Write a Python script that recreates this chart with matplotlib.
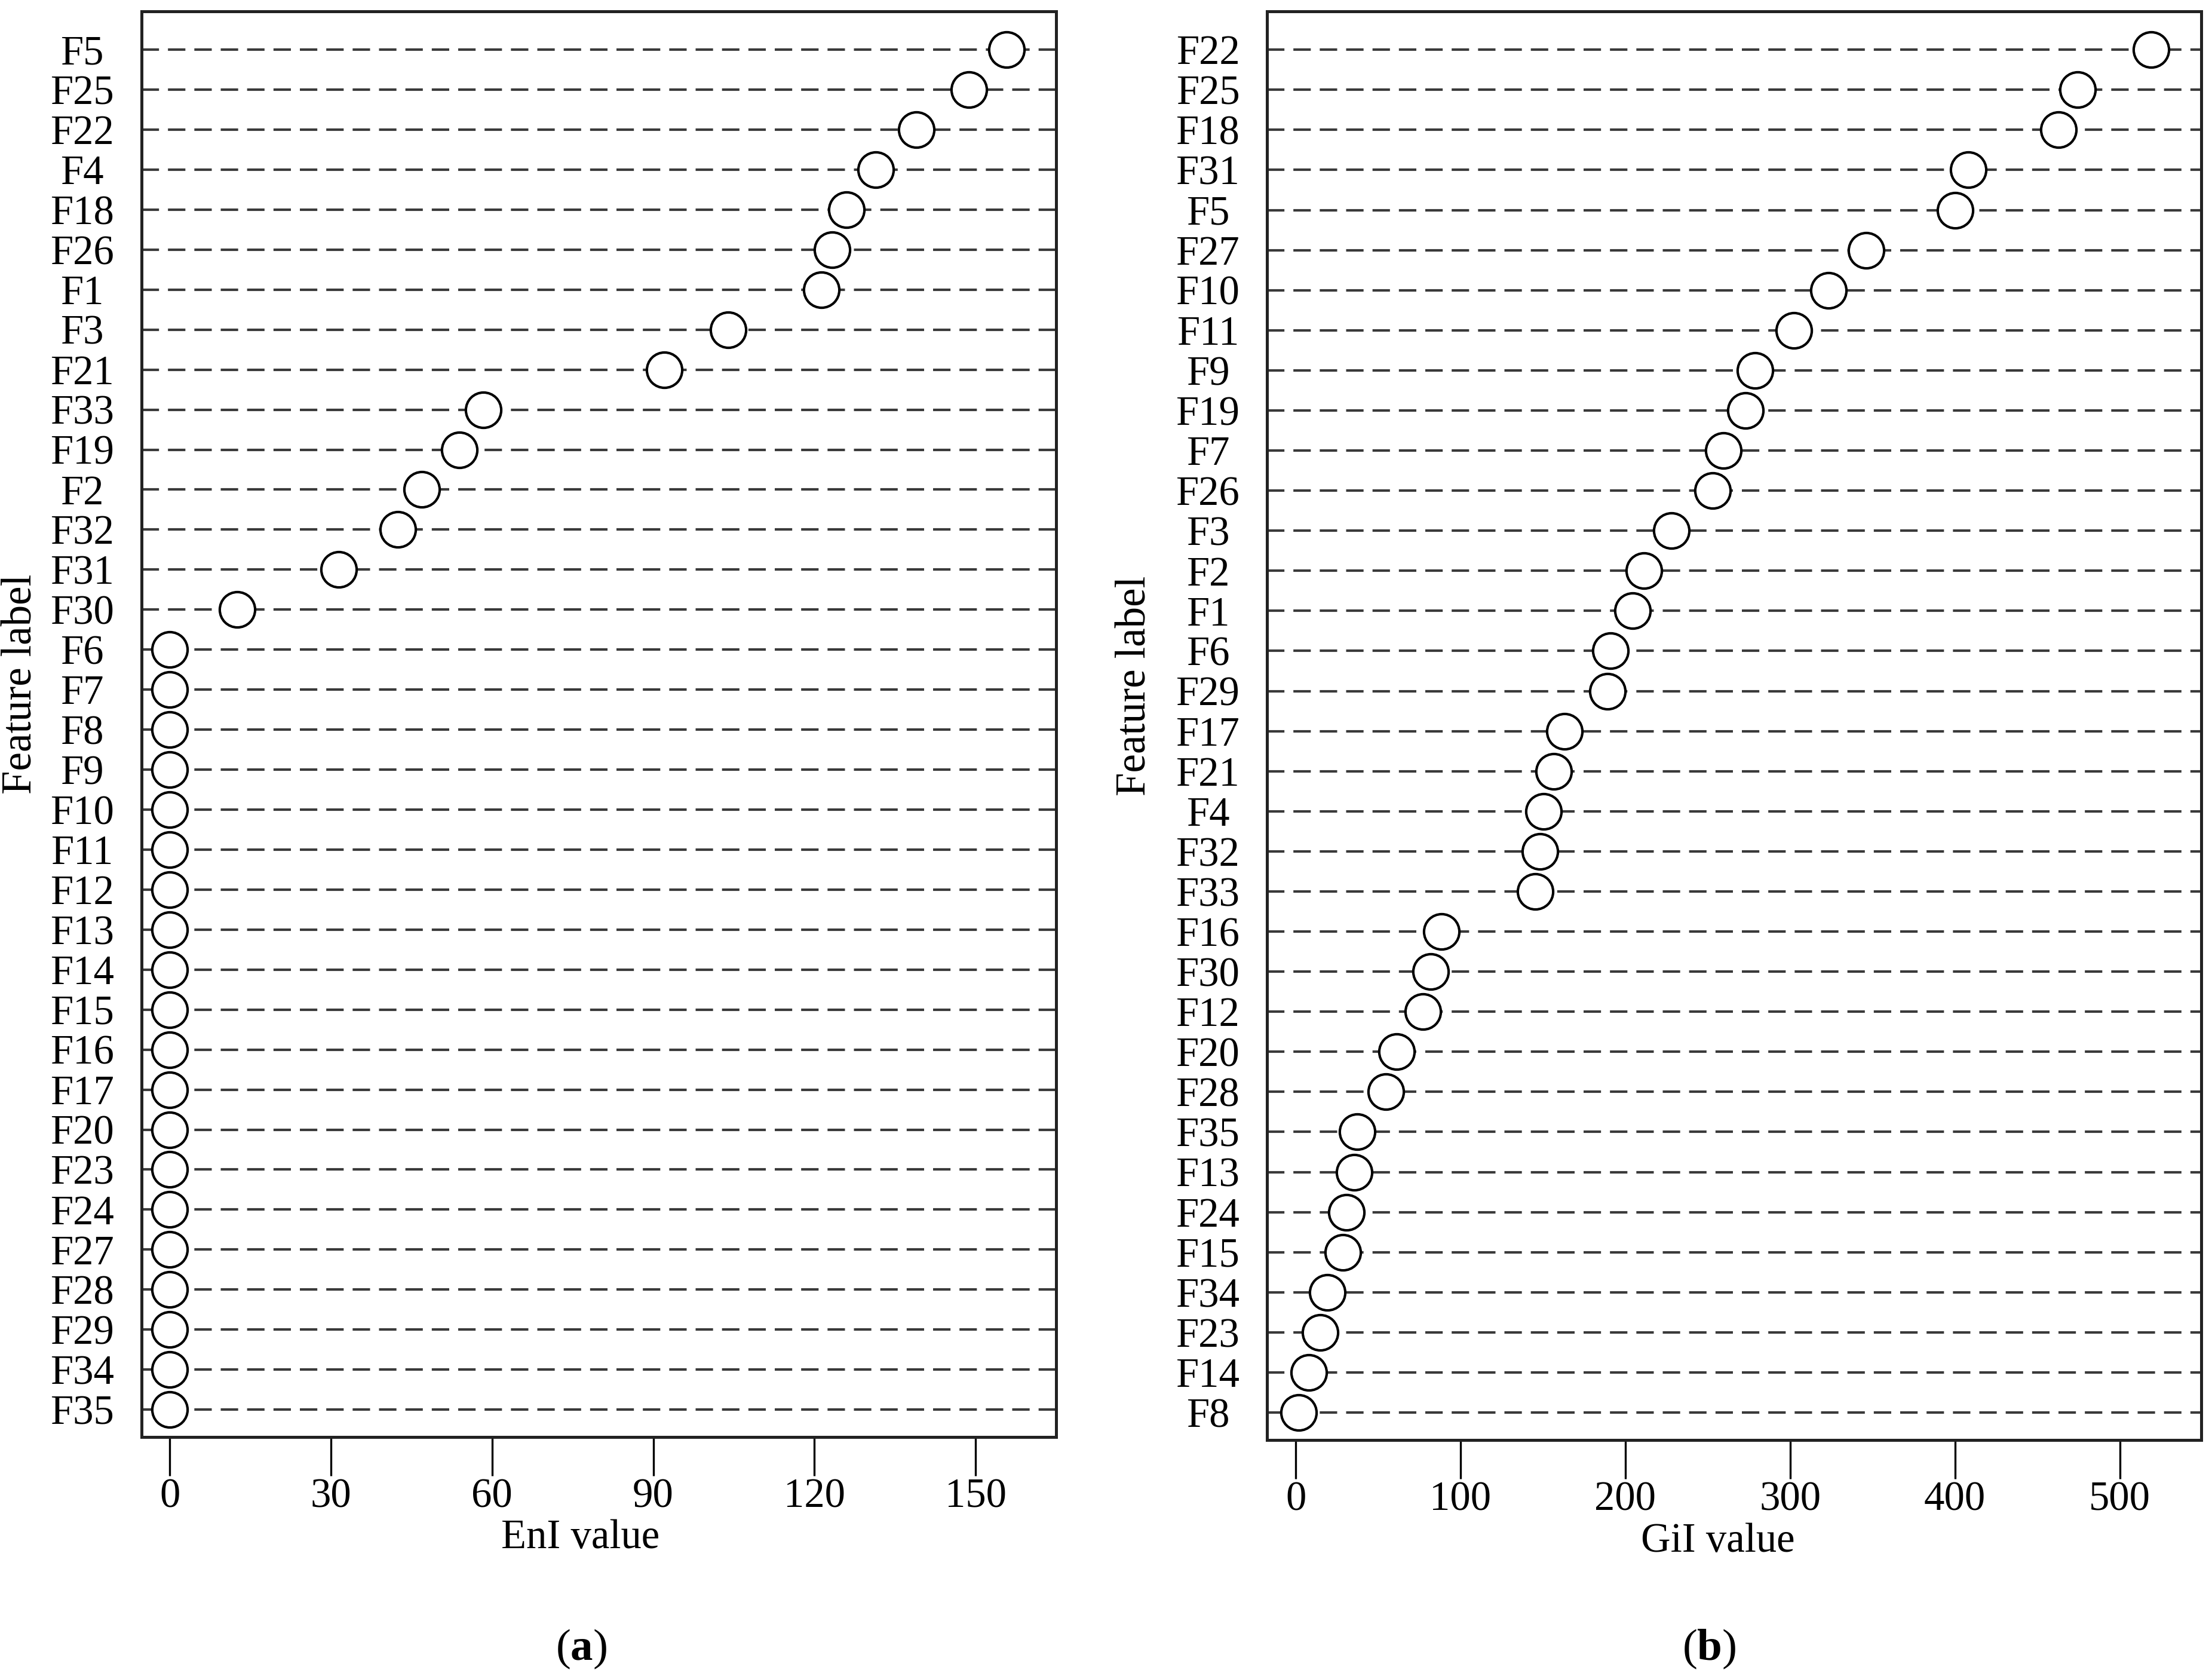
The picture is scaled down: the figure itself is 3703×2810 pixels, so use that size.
import matplotlib
matplotlib.use('Agg')
import matplotlib.pyplot as plt

plt.rcParams['font.family'] = ['Liberation Serif', 'DejaVu Serif']
plt.rcParams['mathtext.fontset'] = 'custom'
plt.rcParams['mathtext.rm'] = 'Liberation Serif'
plt.rcParams['mathtext.bf'] = 'Liberation Serif:bold'

# panel (a): EnI value, listed top to bottom
enI_labels = ['F5', 'F25', 'F22', 'F4', 'F18', 'F26', 'F1', 'F3', 'F21', 'F33',
              'F19', 'F2', 'F32', 'F31', 'F30', 'F6', 'F7', 'F8', 'F9', 'F10',
              'F11', 'F12', 'F13', 'F14', 'F15', 'F16', 'F17', 'F20', 'F23', 'F24',
              'F27', 'F28', 'F29', 'F34', 'F35']
enI_values = [155.8, 148.7, 139.0, 131.4, 125.9, 123.3, 121.3, 103.9, 92.0, 58.4,
              53.9, 46.9, 42.5, 31.5, 12.5, 0, 0, 0, 0, 0,
              0, 0, 0, 0, 0, 0, 0, 0, 0, 0,
              0, 0, 0, 0, 0]
enI_ticks = [0, 30, 60, 90, 120, 150]

# panel (b): GiI value, listed top to bottom
giI_labels = ['F22', 'F25', 'F18', 'F31', 'F5', 'F27', 'F10', 'F11', 'F9', 'F19',
              'F7', 'F26', 'F3', 'F2', 'F1', 'F6', 'F29', 'F17', 'F21', 'F4',
              'F32', 'F33', 'F16', 'F30', 'F12', 'F20', 'F28', 'F35', 'F13', 'F24',
              'F15', 'F34', 'F23', 'F14', 'F8']
giI_values = [518.9, 474.3, 462.7, 407.9, 400.2, 346.2, 323.1, 302.1, 278.5, 273.0,
              259.3, 252.8, 228.0, 211.3, 204.4, 191.1, 189.0, 162.9, 156.4, 150.4,
              148.3, 145.3, 88.3, 81.9, 77.2, 61.3, 54.8, 37.3, 35.6, 30.9,
              28.7, 19.3, 15.0, 7.8, 1.8]
giI_ticks = [0, 100, 200, 300, 400, 500]

fs = 16.5

fig = plt.figure(figsize=(3703 / 300, 2810 / 300), dpi=300)
ax1 = fig.add_axes([0.0639, 0.1441, 0.4136, 0.8491])
ax2 = fig.add_axes([0.5728, 0.1423, 0.4224, 0.8509])


def dotchart(ax, labels, values, ticks, xlim, xlabel, xlab_x, ylab_x):
    n = len(labels)
    ypos = [n - i for i in range(n)]
    ax.plot(values, ypos, 'o', ms=14.2, mfc='white', mec='black', mew=1.0,
            ls='none', zorder=3, clip_on=False)
    ax.set_yticks(ypos)
    ax.set_yticklabels(labels, fontsize=fs)
    for lab in ax.get_yticklabels():
        lab.set_ha('center')
    ax.tick_params(axis='y', length=0, pad=23.8)
    ax.grid(axis='y', color='#3a3a3a', linewidth=1.0, linestyle=(0, (7, 3.6)))
    ax.set_axisbelow(True)
    ax.set_ylim(0.313, n + 0.956)
    ax.set_xlim(*xlim)
    ax.set_xticks(ticks)
    ax.set_xticklabels([str(t) for t in ticks], fontsize=fs)
    ax.tick_params(axis='x', direction='out', length=15.6, width=0.8, pad=1)
    for s in ax.spines.values():
        s.set_linewidth(1.2)
        s.set_color('#222222')
    ax.set_xlabel(xlabel, fontsize=fs)
    ax.xaxis.set_label_coords(xlab_x, -0.071)
    ax.xaxis.label.set_va('center')
    ax.set_ylabel('Feature label', fontsize=fs + 0.5)
    ax.yaxis.set_label_coords(ylab_x, 0.528)
    ax.yaxis.label.set_va('center')


dotchart(ax1, enI_labels, enI_values, enI_ticks, (-5.28, 165.0), 'EnI value', 0.480, -0.1316)
dotchart(ax2, giI_labels, giI_values, giI_ticks, (-17.4, 549.5), 'GiI value', 0.4827, -0.1413)

fig.text(973 / 3703, 1 - 2760 / 2810, r'($\mathbf{a}$)', fontsize=18, ha='center', va='center')
fig.text(2861 / 3703, 1 - 2760 / 2810, r'($\mathbf{b}$)', fontsize=18, ha='center', va='center')

fig.savefig('out.png', dpi=300)
